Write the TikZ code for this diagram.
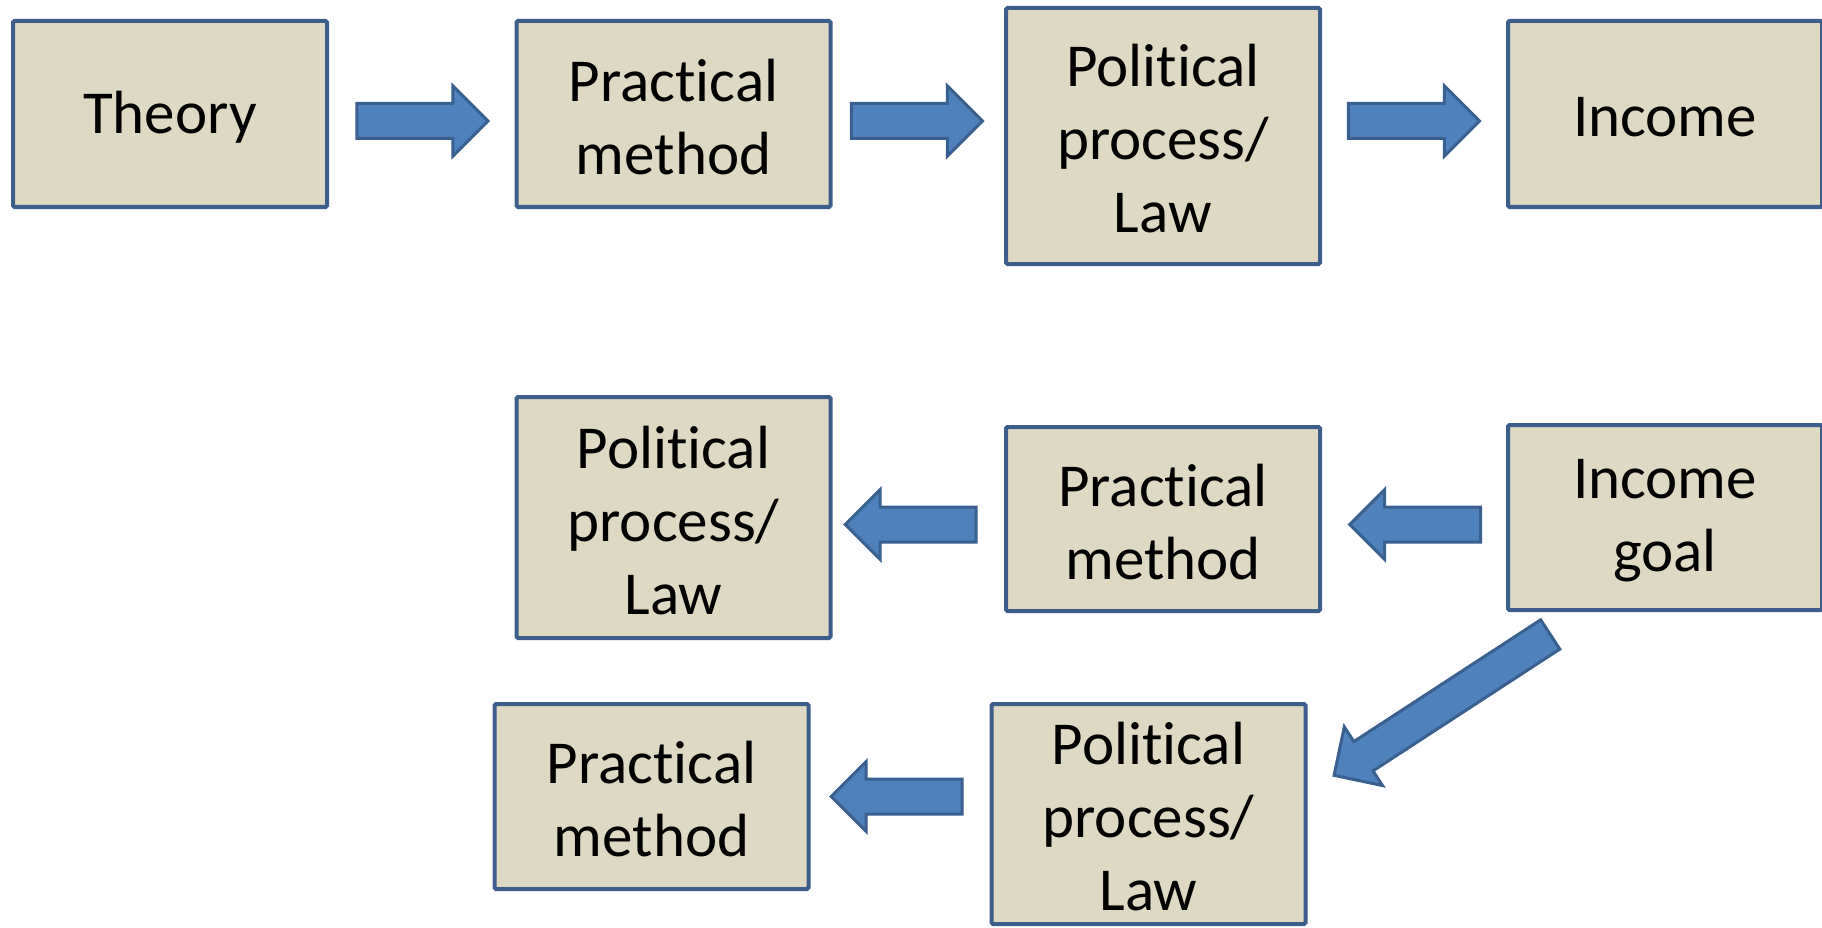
\documentclass[tikz,border=0pt]{standalone}
\usepackage{fontspec}
\setmainfont[Ligatures=NoCommon]{Carlito}
\usetikzlibrary{shapes.arrows,calc}
\definecolor{boxfill}{HTML}{DDD9C3}
\definecolor{boxline}{HTML}{3B5E8C}
\definecolor{arrfill}{HTML}{4F81BD}
\definecolor{arrline}{HTML}{3A6090}
\newcommand\lowr[1]{\raisebox{-3pt}[\height][\depth]{#1}}
\begin{document}
\begin{tikzpicture}[x=1pt,y=-1pt,
  blk/.style={draw=boxline, line width=4pt, fill=boxfill, rounded corners=1.5pt,
    align=center, inner sep=0pt, minimum width=314pt,
    font=\fontsize{61}{73}\selectfont},
  barrow/.style={single arrow, draw=arrline, fill=arrfill, line width=3pt,
    inner xsep=0pt, inner ysep=16pt, single arrow head extend=17.5pt,
    single arrow tip angle=90, minimum height=131pt, anchor=tip}]
\useasboundingbox (0,0) rectangle (1822,928);
\clip (0,0) rectangle (1822,928);
% boxes
\node[blk, minimum height=186pt] (theory) at (170,114) {\lowr{Theory}};
\node[blk, minimum height=186pt] (pm1) at (673.5,114) {\lowr{Practical}\\\lowr{method}};
\node[blk, minimum height=256pt] (pl1) at (1163,136) {\lowr{Political}\\\lowr{process/}\\\lowr{Law}};
\node[blk, minimum height=186pt] (inc) at (1665,114) {\lowr{Income}};
\node[blk, minimum height=241pt] (pl2) at (673.5,517.5) {\lowr{Political}\\\lowr{process/}\\\lowr{Law}};
\node[blk, minimum height=184pt] (pm2) at (1163,519) {\lowr{Practical}\\\lowr{method}};
\node[blk, minimum height=185pt] (goal) at (1665,517.5) {\lowr{Income}\\\lowr{goal}};
\node[blk, minimum height=185pt] (pm3) at (651.5,796.5) {\lowr{Practical}\\\lowr{method}};
\node[blk, minimum height=220pt] (pl3) at (1148.5,814) {\lowr{Political}\\\lowr{process/}\\\lowr{Law}};
% block arrows (top row), tip placed before the next box
\node[barrow] (a1) at ($(pm1.west)+(-24.5,7)$) {};
\coordinate (m2) at ($(pl1.west)+(-19.5,0)$);
\node[barrow] (a2) at (m2 |- a1) {};
\coordinate (m3) at ($(inc.west)+(-24.5,0)$);
\node[barrow] (a3) at (m3 |- a1) {};
% second row
\node[barrow, rotate=180] (a4) at ($(pm2.east)+(25.5,5.5)$) {};
\coordinate (m5) at ($(pl2.east)+(10.5,0)$);
\node[barrow, rotate=180] (a5) at (m5 |- a4) {};
% third row
\node[barrow, rotate=180] (a6) at ($(pm3.east)+(18.5,0)$) {};
% diagonal
\node[barrow, rotate=213.1, minimum height=258pt] (a7) at ($(pl3.north east)+(24.8,74.5)$) {};
\end{tikzpicture}
\end{document}
